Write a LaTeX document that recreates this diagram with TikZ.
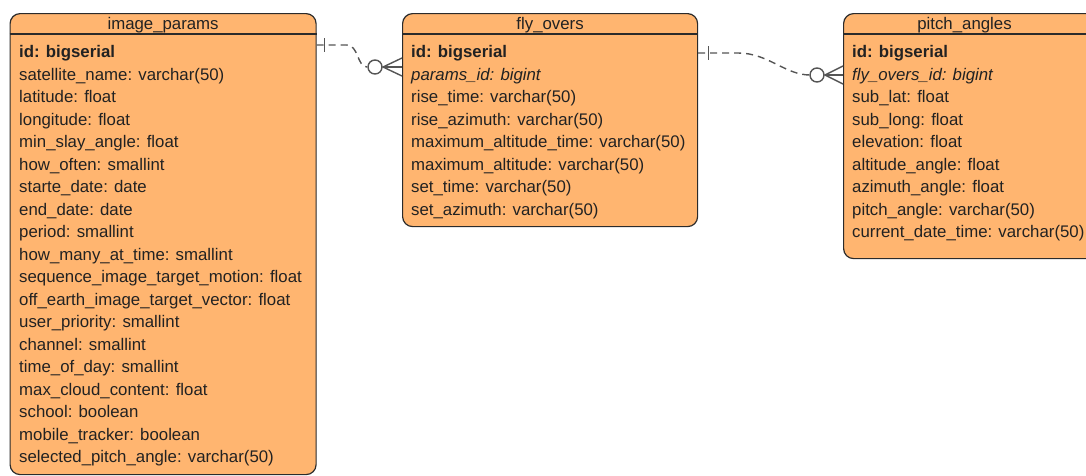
\documentclass[tikz,border=0pt]{standalone}
\usepackage{fontspec}
\setmainfont{Liberation Sans}
\usetikzlibrary{calc}
\definecolor{tablefill}{HTML}{FFB570}
\definecolor{inkline}{HTML}{2B2B2B}
\definecolor{inktext}{HTML}{222222}
\definecolor{relgray}{HTML}{555555}
\begin{document}
\begin{tikzpicture}[x=1pt,y=1pt,
  every node/.style={font=\fontsize{16.8}{20}\selectfont, text=inktext},
  entity/.style={draw=inkline, fill=tablefill, line width=1.2pt, rounded corners=10pt,
    rectangle, anchor=north west, inner sep=0pt},
  title/.style={anchor=base, inner sep=0pt},
  field/.style={anchor=base west, inner sep=0pt},
  sep/.style={draw=inkline, line width=1.2pt},
  relline/.style={draw=relgray, line width=1.4pt},
  reldash/.style={relline, dash pattern=on 7pt off 5pt}]
\useasboundingbox (0,0) rectangle (1086,-475);
\clip (0,0) rectangle (1086,-475);

% ---------- tables ----------
\node[entity, minimum width=306, minimum height=461] (ip) at (9.5,-13) {};
\node[entity, minimum width=295, minimum height=213] (fo) at (402,-13) {};
\node[entity, minimum width=262, minimum height=245] (pa) at (843,-13) {};

% header separators
\foreach \t in {ip,fo,pa}
  \draw[sep] ($(\t.north west)+(0,-21)$) -- ($(\t.north east)+(0,-21)$);

% titles
\node[title] (ip-title) at ($(ip.north)+(0,-16.5)$) {image\_params};
\node[title] (fo-title) at ($(fo.north)+(0,-16.5)$) {fly\_overs};
\node[title] (pa-title) at ($(pa.north west)+(121.5,-16.5)$) {pitch\_angles};

% ---------- fields ----------
\foreach \f [count=\i from 0] in {
  {\bfseries id: bigserial},
  satellite\_name: varchar(50),
  latitude: float,
  longitude: float,
  min\_slay\_angle: float,
  how\_often: smallint,
  starte\_date: date,
  end\_date: date,
  period: smallint,
  how\_many\_at\_time: smallint,
  sequence\_image\_target\_motion: float,
  off\_earth\_image\_target\_vector: float,
  user\_priority: smallint,
  channel: smallint,
  time\_of\_day: smallint,
  max\_cloud\_content: float,
  school: boolean,
  mobile\_tracker: boolean,
  selected\_pitch\_angle: varchar(50)}
  \node[field] (ip-\i) at ($(ip.north west)+(9.5,{-44.5-22.5*\i})$) {\f};

\foreach \f [count=\i from 0] in {
  {\bfseries id: bigserial},
  {\itshape params\_id: bigint},
  rise\_time: varchar(50),
  rise\_azimuth: varchar(50),
  maximum\_altitude\_time: varchar(50),
  maximum\_altitude: varchar(50),
  set\_time: varchar(50),
  set\_azimuth: varchar(50)}
  \node[field] (fo-\i) at ($(fo.north west)+(9,{-44.5-22.5*\i})$) {\f};

\foreach \f [count=\i from 0] in {
  {\bfseries id: bigserial},
  {\itshape fly\_overs\_id: bigint},
  sub\_lat: float,
  sub\_long: float,
  elevation: float,
  altitude\_angle: float,
  azimuth\_angle: float,
  pitch\_angle: varchar(50),
  current\_date\_time: varchar(50)}
  \node[field] (pa-\i) at ($(pa.north west)+(9,{-44.5-22.5*\i})$) {\f};

% ---------- relationships (one to zero-or-many) ----------
\coordinate (r1a) at ($(ip.north east)+(0,-32)$);
\coordinate (r1b) at ($(fo.north west)+(0,-54)$);
\draw[reldash] (r1a) -- ++(30,0) .. controls +(12,0) and +(-10,0) .. ($(r1b)+(-35,0)$);
\draw[relline] ($(r1a)+(8,7)$) -- ($(r1a)+(8,-7)$);
\draw[relline] ($(r1b)+(-27,0)$) circle (7);
\draw[relline] ($(r1b)+(-19,0)$) -- (r1b);
\draw[relline] ($(r1b)+(0,9)$) -- ($(r1b)+(-19,0)$) -- ($(r1b)+(0,-9)$);

\coordinate (r2a) at ($(fo.north east)+(0,-40)$);
\coordinate (r2b) at ($(pa.north west)+(0,-62)$);
\draw[reldash] (r2a) -- ++(40,0) .. controls +(30,0) and +(-25,0) .. ($(r2b)+(-33,0)$);
\draw[relline] ($(r2a)+(10,7)$) -- ($(r2a)+(10,-7)$);
\draw[relline] ($(r2b)+(-26,0)$) circle (7);
\draw[relline] ($(r2b)+(-18,0)$) -- (r2b);
\draw[relline] ($(r2b)+(0,9)$) -- ($(r2b)+(-18,0)$) -- ($(r2b)+(0,-9)$);
\end{tikzpicture}
\end{document}
